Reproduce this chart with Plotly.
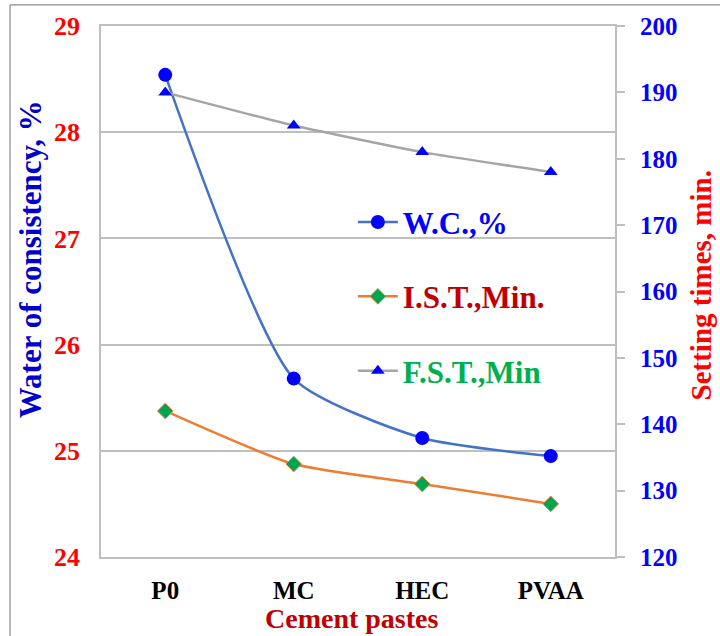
import plotly.graph_objects as go

categories = ["P0", "MC", "HEC", "PVAA"]
wc = [28.54, 25.68, 25.12, 24.95]
ist = [142, 134, 131, 128]
fst = [190, 185, 181, 178]

left_ticks = [24, 25, 26, 27, 28, 29]
right_ticks = [120, 130, 140, 150, 160, 170, 180, 190, 200]

FONT = "Liberation Serif"
GRID = "#BFBFBF"

fig = go.Figure()

fig.add_trace(go.Scatter(
    x=categories, y=wc, yaxis="y", mode="lines+markers",
    name="<b><span style='color:#0000FF'>W.C.,%</span></b>",
    line=dict(color="#4472C4", width=2.5, shape="spline", smoothing=0.6),
    marker=dict(symbol="circle", size=14, color="#0000FF", line=dict(color="#0000FF", width=0)),
    legendgroup="a",
))
fig.add_trace(go.Scatter(
    x=categories, y=ist, yaxis="y2", mode="lines+markers",
    name="<b><span style='color:#C00000'>I.S.T.,Min.</span></b>",
    line=dict(color="#ED7D31", width=2.5, shape="spline", smoothing=0.6),
    marker=dict(symbol="diamond", size=12, color="#00A550", line=dict(color="#ED7D31", width=1)),
    legendgroup="b",
))
fig.add_trace(go.Scatter(
    x=categories, y=fst, yaxis="y2", mode="lines+markers",
    name="<b><span style='color:#00B050'>F.S.T.,Min</span></b>",
    line=dict(color="#A5A5A5", width=2.5, shape="spline", smoothing=0.5),
    marker=dict(symbol="triangle-up", size=12, color="#0000FF", line=dict(color="#A5A5A5", width=0)),
    legendgroup="c",
))

fig.update_layout(
    width=720, height=636,
    margin=dict(l=101, r=105, t=26, b=79),
    paper_bgcolor="white", plot_bgcolor="white",
    font=dict(family=FONT, size=24, color="black"),
    showlegend=True,
    legend=dict(
        x=0.49, y=0.681, xanchor="left", yanchor="top",
        bgcolor="rgba(0,0,0,0)", borderwidth=0,
        font=dict(family=FONT, size=31),
        traceorder="grouped", tracegroupgap=31,
        itemwidth=40,
    ),
    xaxis=dict(
        type="category", range=[-0.5, 3.5],
        showline=True, linecolor=GRID, linewidth=1.5, mirror=True,
        showgrid=False, ticks="", ticklabelstandoff=10,
        tickfont=dict(family=FONT, size=25, color="black", weight="bold"),
    ),
    yaxis=dict(
        range=[24, 29], tickvals=left_ticks,
        showline=True, linecolor=GRID, linewidth=1.5, mirror=True,
        showgrid=True, gridcolor=GRID, gridwidth=1.5,
        ticks="", ticklabelstandoff=14,
        tickfont=dict(family=FONT, size=26, color="#FF0000", weight="bold"),
        zeroline=False,
    ),
    yaxis2=dict(
        range=[120, 200], tickvals=right_ticks,
        overlaying="y", side="right",
        showline=True, linecolor=GRID, linewidth=2,
        showgrid=False, zeroline=False,
        ticks="outside", ticklen=8, tickcolor=GRID, tickwidth=1.5,
        ticklabelstandoff=10,
        tickfont=dict(family=FONT, size=25, color="#0000FF", weight="bold"),
    ),
    annotations=[
        dict(text="<b>Water of consistency, %</b>", xref="paper", yref="paper",
             x=-0.138, y=0.561, xanchor="center", yanchor="middle", textangle=-90,
             showarrow=False, font=dict(family=FONT, size=31, color="#0000CC")),
        dict(text="<b>Setting times, min.</b>", xref="paper", yref="paper",
             x=1.168, y=0.512, xanchor="center", yanchor="middle", textangle=-90,
             showarrow=False, font=dict(family=FONT, size=29, color="#FF0000")),
        dict(text="<b>Cement pastes</b>", xref="paper", yref="paper",
             x=0.488, y=-0.1488, xanchor="center", yanchor="bottom",
             showarrow=False, font=dict(family=FONT, size=28, color="#C00000")),
    ],
    shapes=[
        dict(type="line", xref="paper", yref="paper", x0=-0.177, x1=-0.177, y0=1.0396, y1=-0.2,
             line=dict(color="#8C8C8C", width=1.2)),
        dict(type="line", xref="paper", yref="paper", x0=-0.177, x1=1.25, y0=1.0396, y1=1.0396,
             line=dict(color="#8C8C8C", width=1.2)),
    ],
)

fig.write_html("out.html", config={"displayModeBar": False},
               post_script="document.body.style.margin='0';document.body.style.padding='0';")
